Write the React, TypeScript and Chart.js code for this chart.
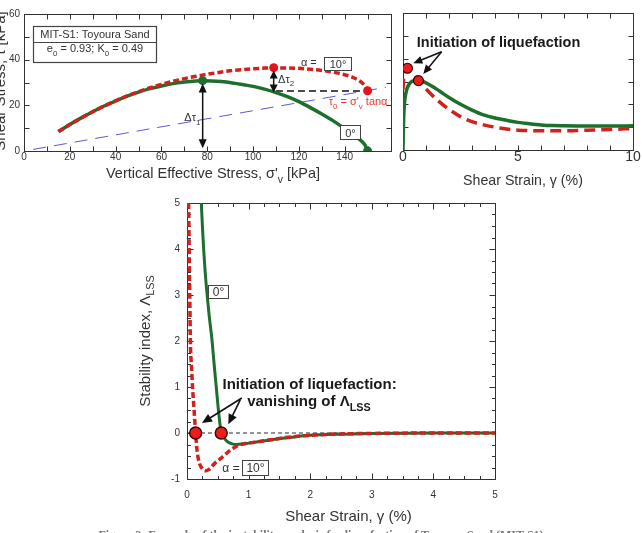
import React, { useEffect, useRef } from 'react';
import { Chart, registerables } from 'chart.js';
Chart.register(...registerables);

// ---------- Panel A: stress paths (sigma'v [kPa], tau [kPa]) ----------
const pathSigma0 = [15, 20, 25, 30, 35, 40, 45, 50, 55, 60, 65, 70, 75, 78, 82, 86, 91, 96, 100, 105, 110, 115, 120, 125, 130, 135, 140, 143, 145.5, 147.5, 149, 150];
const pathTau0 = [8.5, 11.6, 14.5, 17.2, 19.7, 21.9, 24.0, 25.8, 27.3, 28.5, 29.5, 30.2, 30.7, 30.8, 30.7, 30.4, 29.8, 29.0, 28.3, 27.1, 25.6, 23.8, 21.6, 19.0, 16.2, 13.2, 9.8, 7.6, 5.8, 4.2, 2.4, 0];
const pathSigma10 = [15, 20, 25, 30, 35, 40, 45, 50, 55, 60, 65, 70, 75, 80, 85, 90, 95, 100, 105, 109, 115, 120, 125, 130, 135, 140, 143, 146, 148, 149.3, 150];
const pathTau10 = [8.5, 11.6, 14.5, 17.2, 19.7, 22.0, 24.1, 26.0, 27.7, 29.2, 30.5, 31.7, 32.7, 33.6, 34.4, 35.1, 35.6, 36.0, 36.3, 36.4, 36.4, 36.2, 35.8, 35.3, 34.5, 33.4, 32.5, 31.0, 29.5, 28.0, 26.4];
const staticSigma = [4, 158];
const staticTau = [0.7, 27.9];
const refSigma = [110, 150];
const refTau = [26.3, 26.3];
const markSigma0 = [78, 150];
const markTau0 = [30.8, 0];
const markSigma10 = [109, 150];
const markTau10 = [36.5, 26.4];

// ---------- Panel B: stress-strain (gamma %, tau kPa) ----------
const strainB0 = [0, 0.01, 0.03, 0.06, 0.1, 0.15, 0.2, 0.3, 0.4, 0.5, 0.65, 0.8, 1.0, 1.3, 1.6, 2.0, 2.5, 3.0, 3.5, 4.0, 4.5, 5.0, 5.5, 6.0, 6.5, 7.0, 8.0, 9.0, 10.0];
const tauB0 = [0, 6, 14, 20, 23.5, 26, 27.6, 29.3, 30.1, 30.4, 30.5, 30.2, 29.4, 27.7, 25.7, 23.0, 20.0, 17.5, 15.4, 14.0, 13.0, 12.1, 11.5, 11.0, 10.7, 10.6, 10.5, 10.5, 10.6];
const strainB10 = [0, 0.03, 0.08, 0.19, 0.3, 0.5, 0.7, 1.0, 1.5, 2.0, 2.5, 3.0, 3.5, 4.0, 4.5, 5.0, 6.0, 7.0, 8.0, 9.0, 10.0];
const tauB10 = [26.4, 31.5, 34.5, 35.8, 35.2, 32.6, 30.0, 26.7, 21.8, 17.8, 14.6, 12.4, 11.0, 10.0, 9.2, 8.7, 8.4, 8.4, 8.7, 9.0, 9.4];
const markStrainB = [0.19, 0.67];
const markTauB = [35.8, 30.4];

// ---------- Panel C: stability index (gamma %, Lambda_LSS) ----------
const strainC0 = [0.232, 0.25, 0.27, 0.295, 0.32, 0.36, 0.405, 0.44, 0.475, 0.51, 0.556, 0.6, 0.65, 0.72, 0.81, 0.9, 1.0, 1.2, 1.4, 1.7, 2.0, 2.5, 3.0, 4.0, 5.0];
const lss0 = [5, 4.5, 4.0, 3.5, 3.1, 2.55, 2.03, 1.5, 1.0, 0.5, 0, -0.1, -0.18, -0.23, -0.25, -0.24, -0.22, -0.18, -0.14, -0.09, -0.05, -0.025, -0.01, 0, 0];
const strainC10 = [0.026, 0.035, 0.045, 0.055, 0.075, 0.09, 0.115, 0.14, 0.165, 0.2, 0.25, 0.3, 0.36, 0.45, 0.55, 0.65, 0.75, 0.85, 0.95, 1.1, 1.3, 1.6, 2.0, 2.5, 3.0, 4.0, 5.0];
const lss10 = [5, 4, 3, 2, 1.4, 1.0, 0.5, 0, -0.4, -0.65, -0.78, -0.82, -0.79, -0.66, -0.55, -0.43, -0.33, -0.26, -0.23, -0.2, -0.16, -0.1, -0.05, -0.02, -0.01, 0, 0];
const markStrainC = [0.14, 0.556];
const markLssC = [0, 0];
const zeroStrain = [0, 5];
const zeroLss = [0, 0];

// ---------- styling ----------
const FONT = '"Liberation Sans", Arial, Helvetica, sans-serif';
const GREEN = '#1e6e2e';
const RED = '#d0211c';
const RED_TXT = '#e23b2e';
const BLUE = '#5b5bd6';
const AXIS = '#333';
const TXT = '#333';

type Run = { t: string; sub?: boolean };

const pts = (xs: number[], ys: number[]) => xs.map((x, i) => ({ x, y: ys[i] }));

function drawRich(ctx: CanvasRenderingContext2D, runs: Run[], x: number, y: number, o: { size: number; bold?: boolean; color?: string; align?: 'left' | 'center' | 'right'; rot?: number }) {
  const w = o.bold ? 'bold ' : '';
  const fontFor = (r: Run) => `${w}${r.sub ? o.size * 0.72 : o.size}px ${FONT}`;
  ctx.save();
  ctx.translate(x, y);
  if (o.rot) ctx.rotate(o.rot);
  let total = 0;
  const widths = runs.map((r) => {
    ctx.font = fontFor(r);
    const m = ctx.measureText(r.t).width;
    total += m;
    return m;
  });
  let cx = o.align === 'center' ? -total / 2 : o.align === 'right' ? -total : 0;
  ctx.fillStyle = o.color ?? TXT;
  ctx.textBaseline = 'alphabetic';
  ctx.textAlign = 'left';
  runs.forEach((r, i) => {
    ctx.font = fontFor(r);
    ctx.fillText(r.t, cx, r.sub ? o.size * 0.32 : 0);
    cx += widths[i];
  });
  ctx.restore();
}

function arrow(ctx: CanvasRenderingContext2D, x1: number, y1: number, x2: number, y2: number, both = false, head = 9, hw = 4, lw = 1.5, color = '#111') {
  const a = Math.atan2(y2 - y1, x2 - x1);
  const ux = Math.cos(a), uy = Math.sin(a);
  ctx.save();
  ctx.strokeStyle = color;
  ctx.fillStyle = color;
  ctx.lineWidth = lw;
  ctx.setLineDash([]);
  ctx.beginPath();
  ctx.moveTo(both ? x1 + ux * head * 0.8 : x1, both ? y1 + uy * head * 0.8 : y1);
  ctx.lineTo(x2 - ux * head * 0.8, y2 - uy * head * 0.8);
  ctx.stroke();
  const tip = (tx: number, ty: number, ang: number) => {
    const c = Math.cos(ang), s = Math.sin(ang);
    ctx.beginPath();
    ctx.moveTo(tx, ty);
    ctx.lineTo(tx - head * c + hw * s, ty - head * s - hw * c);
    ctx.lineTo(tx - head * c - hw * s, ty - head * s + hw * c);
    ctx.closePath();
    ctx.fill();
  };
  tip(x2, y2, a);
  if (both) tip(x1, y1, a + Math.PI);
  ctx.restore();
}

function textBox(ctx: CanvasRenderingContext2D, x1: number, y1: number, x2: number, y2: number, text: string, size: number) {
  ctx.save();
  const l = Math.round(Math.min(x1, x2)) + 0.5, t = Math.round(Math.min(y1, y2)) + 0.5;
  const w = Math.round(Math.abs(x2 - x1)), h = Math.round(Math.abs(y2 - y1));
  ctx.fillStyle = '#fff';
  ctx.fillRect(l, t, w, h);
  ctx.strokeStyle = '#444';
  ctx.lineWidth = 1;
  ctx.strokeRect(l, t, w, h);
  ctx.fillStyle = TXT;
  ctx.font = `${size}px ${FONT}`;
  ctx.textAlign = 'center';
  ctx.textBaseline = 'middle';
  ctx.fillText(text, l + w / 2, t + h / 2 + 1);
  ctx.restore();
}

function framePlugin(xMinor: number, xMajor: number, yMinor: number, yMajor: number, majLen: number, minLen: number) {
  return {
    id: 'frame',
    beforeDatasetsDraw(chart: any) {
      const { ctx, chartArea: a, scales } = chart;
      const x = scales.x, y = scales.y;
      ctx.save();
      ctx.strokeStyle = AXIS;
      ctx.lineWidth = 1;
      const L = Math.round(a.left) + 0.5, R = Math.round(a.right) + 0.5, T = Math.round(a.top) + 0.5, B = Math.round(a.bottom) + 0.5;
      ctx.beginPath();
      const isMaj = (v: number, m: number) => Math.abs(v / m - Math.round(v / m)) < 1e-6;
      const nx = Math.round((x.max - x.min) / xMinor);
      for (let i = 0; i <= nx; i++) {
        const v = x.min + i * xMinor;
        const p = Math.round(x.getPixelForValue(v)) + 0.5;
        const len = isMaj(v, xMajor) ? majLen : minLen;
        ctx.moveTo(p, B); ctx.lineTo(p, B - len);
        ctx.moveTo(p, T); ctx.lineTo(p, T + len);
      }
      const ny = Math.round((y.max - y.min) / yMinor);
      for (let i = 0; i <= ny; i++) {
        const v = y.min + i * yMinor;
        const p = Math.round(y.getPixelForValue(v)) + 0.5;
        const len = isMaj(v, yMajor) ? majLen : minLen;
        ctx.moveTo(L, p); ctx.lineTo(L + len, p);
        ctx.moveTo(R, p); ctx.lineTo(R - len, p);
      }
      ctx.stroke();
      ctx.strokeRect(L, T, R - L, B - T);
      ctx.restore();
    },
  };
}

function lineDs(data: any[], color: string, width: number, dash: number[], order: number) {
  return { data, showLine: true, borderColor: color, borderWidth: width, borderDash: dash, pointRadius: 0, fill: false, cubicInterpolationMode: 'monotone', borderCapStyle: 'butt', order };
}
function markDs(data: any[], fill: string, stroke: string, r: number, bw: number) {
  return { data, showLine: false, pointRadius: r, pointBackgroundColor: fill, pointBorderColor: stroke, pointBorderWidth: bw, order: 0 };
}

function baseOptions(pad: any, xCfg: any, yCfg: any) {
  return {
    animation: false,
    responsive: false,
    maintainAspectRatio: false,
    events: [],
    layout: { padding: pad },
    plugins: { legend: { display: false }, tooltip: { enabled: false } },
    scales: { x: xCfg, y: yCfg },
  };
}

function axisCfg(min: number, max: number, step: number, fontSize: number, padding: number, fit: (s: any) => void, display = true, cb?: (v: number) => string) {
  return {
    type: 'linear',
    display,
    min,
    max,
    afterFit: fit,
    grid: { display: false, drawTicks: false },
    border: { display: false },
    ticks: {
      stepSize: step,
      autoSkip: false,
      maxRotation: 0,
      padding,
      color: TXT,
      font: { family: FONT, size: fontSize, lineHeight: 1 },
      callback: cb ?? ((v: number) => String(v)),
    },
  };
}

function makeA(canvas: HTMLCanvasElement) {
  const notes = {
    id: 'notesA',
    afterDatasetsDraw(chart: any) {
      const { ctx, scales } = chart;
      const X = (v: number) => scales.x.getPixelForValue(v);
      const Y = (v: number) => scales.y.getPixelForValue(v);
      // info box
      ctx.save();
      const bl = Math.round(X(3.9)) + 0.5, bt = Math.round(Y(54.7)) + 0.5, br = Math.round(X(57.8)) + 0.5, bb = Math.round(Y(39)) + 0.5;
      ctx.fillStyle = '#fff';
      ctx.fillRect(bl, bt, br - bl, bb - bt);
      ctx.strokeStyle = '#444';
      ctx.lineWidth = 1.2;
      ctx.strokeRect(bl, bt, br - bl, bb - bt);
      ctx.beginPath();
      const dv = Math.round(Y(47.7)) + 0.5;
      ctx.moveTo(bl, dv); ctx.lineTo(br, dv);
      ctx.stroke();
      ctx.restore();
      drawRich(ctx, [{ t: 'MIT-S1: Toyoura Sand' }], (bl + br) / 2, Y(49.4), { size: 11, align: 'center' });
      drawRich(ctx, [{ t: 'e' }, { t: '0', sub: true }, { t: ' = 0.93; K' }, { t: '0', sub: true }, { t: ' = 0.49' }], (bl + br) / 2, Y(43.3), { size: 11, align: 'center' });
      // delta tau arrows
      arrow(ctx, X(78), Y(29.6), X(78), Y(1.2), true, 9, 4, 1.5);
      arrow(ctx, X(109), Y(35.3), X(109), Y(25.6), true, 8, 4, 1.5);
      drawRich(ctx, [{ t: 'Δτ' }, { t: '1', sub: true }], X(70), Y(13.1), { size: 11 });
      drawRich(ctx, [{ t: 'Δτ' }, { t: '2', sub: true }], X(110.9), Y(29.8), { size: 11 });
      // alpha labels
      drawRich(ctx, [{ t: 'α = ' }], X(120.9), Y(37.2), { size: 11 });
      textBox(ctx, X(130.9), Y(41.2), X(142.6), Y(35.5), '10°', 11);
      textBox(ctx, X(137.8), Y(11.4), X(146.5), Y(5.3), '0°', 11);
      drawRich(ctx, [{ t: 'τ' }, { t: '0', sub: true }, { t: ' = σ\'' }, { t: 'v', sub: true }, { t: ' tanα' }], X(133), Y(20.1), { size: 11, color: RED_TXT });
    },
    afterDraw(chart: any) {
      const { ctx } = chart;
      drawRich(ctx, [{ t: 'Vertical Effective Stress, σ\'' }, { t: 'v', sub: true }, { t: ' [kPa]' }], 213, 178, { size: 14.5, align: 'center' });
      drawRich(ctx, [{ t: 'Shear Stress, τ [kPa]' }], 5, 81, { size: 15, align: 'center', rot: -Math.PI / 2 });
    },
  };
  return new Chart(canvas, {
    type: 'scatter',
    data: {
      datasets: [
        markDs(pts(markSigma10, markTau10), '#e3141b', '#e3141b', 4.5, 0),
        markDs(pts(markSigma0, markTau0), GREEN, GREEN, 4.5, 0),
        lineDs(pts(pathSigma10, pathTau10), RED, 3.5, [6, 3], 1),
        lineDs(pts(pathSigma0, pathTau0), GREEN, 3.5, [], 2),
        lineDs(pts(refSigma, refTau), '#111', 1.5, [7, 4], 3),
        lineDs(pts(staticSigma, staticTau), BLUE, 1, [13, 8], 4),
      ] as any,
    },
    options: baseOptions(
      { left: 0, top: 14, right: 3, bottom: 0 },
      axisCfg(0, 160, 20, 10, 1, (s) => { s.height = 49; }, true, (v) => (v === 160 ? '' : String(v))),
      axisCfg(0, 60, 20, 10, 4, (s) => { s.width = 24; }),
    ) as any,
    plugins: [framePlugin(10, 20, 10, 20, 5, 5), notes],
  });
}

function makeB(canvas: HTMLCanvasElement) {
  const notes = {
    id: 'notesB',
    afterDatasetsDraw(chart: any) {
      const { ctx, scales } = chart;
      const X = (v: number) => scales.x.getPixelForValue(v);
      const Y = (v: number) => scales.y.getPixelForValue(v);
      drawRich(ctx, [{ t: 'Initiation of liquefaction' }], X(0.6), Y(45.3), { size: 14.5, bold: true, color: '#1a1a1a' });
      arrow(ctx, X(1.68), Y(43), X(0.45), Y(38), false, 9, 4, 1.5);
      arrow(ctx, X(1.68), Y(43), X(0.88), Y(33.3), false, 9, 4, 1.5);
    },
    afterDraw(chart: any) {
      drawRich(chart.ctx, [{ t: 'Shear Strain, γ (%)' }], 128, 185, { size: 14.2, align: 'center' });
    },
  };
  return new Chart(canvas, {
    type: 'scatter',
    data: {
      datasets: [
        markDs(pts(markStrainB, markTauB), '#ee1c1c', '#3a0000', 5, 1.2),
        lineDs(pts(strainB10, tauB10), RED, 3.5, [11, 6], 1),
        lineDs(pts(strainB0, tauB0), GREEN, 3.5, [], 2),
      ] as any,
    },
    options: baseOptions(
      { left: 8, top: 13, right: 9, bottom: 0 },
      axisCfg(0, 10, 5, 14, 0, (s) => { s.height = 50; }),
      axisCfg(0, 60, 20, 10, 4, (s) => { s.width = 0; }, false),
    ) as any,
    plugins: [framePlugin(1, 5, 10, 20, 5, 5), notes],
  });
}

function makeC(canvas: HTMLCanvasElement) {
  const notes = {
    id: 'notesC',
    afterDatasetsDraw(chart: any) {
      const { ctx, scales } = chart;
      const X = (v: number) => scales.x.getPixelForValue(v);
      const Y = (v: number) => scales.y.getPixelForValue(v);
      drawRich(ctx, [{ t: 'Initiation of liquefaction:' }], X(0.576), Y(0.955), { size: 15, bold: true, color: '#1a1a1a' });
      drawRich(ctx, [{ t: 'vanishing of Λ' }, { t: 'LSS', sub: true }], X(0.977), Y(0.58), { size: 15, bold: true, color: '#1a1a1a' });
      arrow(ctx, X(0.89), Y(0.76), X(0.243), Y(0.217), false, 10, 4.5, 1.6);
      arrow(ctx, X(0.864), Y(0.72), X(0.67), Y(0.19), false, 10, 4.5, 1.6);
      textBox(ctx, X(0.345), Y(3.22), X(0.669), Y(2.94), '0°', 12);
      drawRich(ctx, [{ t: 'α =' }], X(0.574), Y(-0.84), { size: 12 });
      textBox(ctx, X(0.897), Y(-0.58), X(1.318), Y(-0.91), '10°', 12);
    },
    afterDraw(chart: any) {
      const { ctx } = chart;
      drawRich(ctx, [{ t: 'Shear Strain, γ (%)' }], 218.5, 330.7, { size: 15, align: 'center' });
      drawRich(ctx, [{ t: 'Stability index, Λ' }, { t: 'LSS', sub: true }], 19.5, 151, { size: 15, align: 'center', rot: -Math.PI / 2 });
    },
  };
  return new Chart(canvas, {
    type: 'scatter',
    data: {
      datasets: [
        markDs(pts(markStrainC, markLssC), '#ee1c1c', '#3a0000', 6, 1.4),
        lineDs(pts(strainC10, lss10), RED, 3.5, [6, 3], 1),
        lineDs(pts(strainC0, lss0), GREEN, 3, [], 2),
        lineDs(pts(zeroStrain, zeroLss), '#111', 0.9, [4, 3], 3),
      ] as any,
    },
    options: baseOptions(
      { left: 0, top: 13, right: 35, bottom: 0 },
      axisCfg(0, 5, 1, 10, 11, (s) => { s.height = 54; }),
      axisCfg(-1, 5, 1, 10, 7, (s) => { s.width = 57; }),
    ) as any,
    plugins: [framePlugin(0.25, 1, 0.25, 1, 6, 3.5), notes],
  });
}

function Panel({ left, top, width, height, make }: { left: number; top: number; width: number; height: number; make: (c: HTMLCanvasElement) => Chart }) {
  const ref = useRef<HTMLCanvasElement>(null);
  useEffect(() => {
    const c = make(ref.current as HTMLCanvasElement);
    return () => c.destroy();
  }, []);
  return <canvas ref={ref} width={width} height={height} style={{ position: 'absolute', left, top, width, height }} />;
}

export default function App() {
  return (
    <div style={{ position: 'fixed', left: 0, top: 0, width: 642, height: 533, overflow: 'hidden', background: '#fff' }}>
      <Panel left={0} top={0} width={395} height={200} make={makeA} />
      <Panel left={395} top={0} width={247} height={200} make={makeB} />
      <Panel left={130} top={190} width={400} height={343} make={makeC} />
      <div style={{ position: 'absolute', left: 0, width: 642, top: 528, textAlign: 'center', font: 'bold 12px "Liberation Serif", "Times New Roman", serif', lineHeight: '14px', color: '#777', whiteSpace: 'nowrap' }}>
        Figure 3: Example of the instability analysis for liquefaction of Toyoura Sand (MIT-S1)
      </div>
    </div>
  );
}
